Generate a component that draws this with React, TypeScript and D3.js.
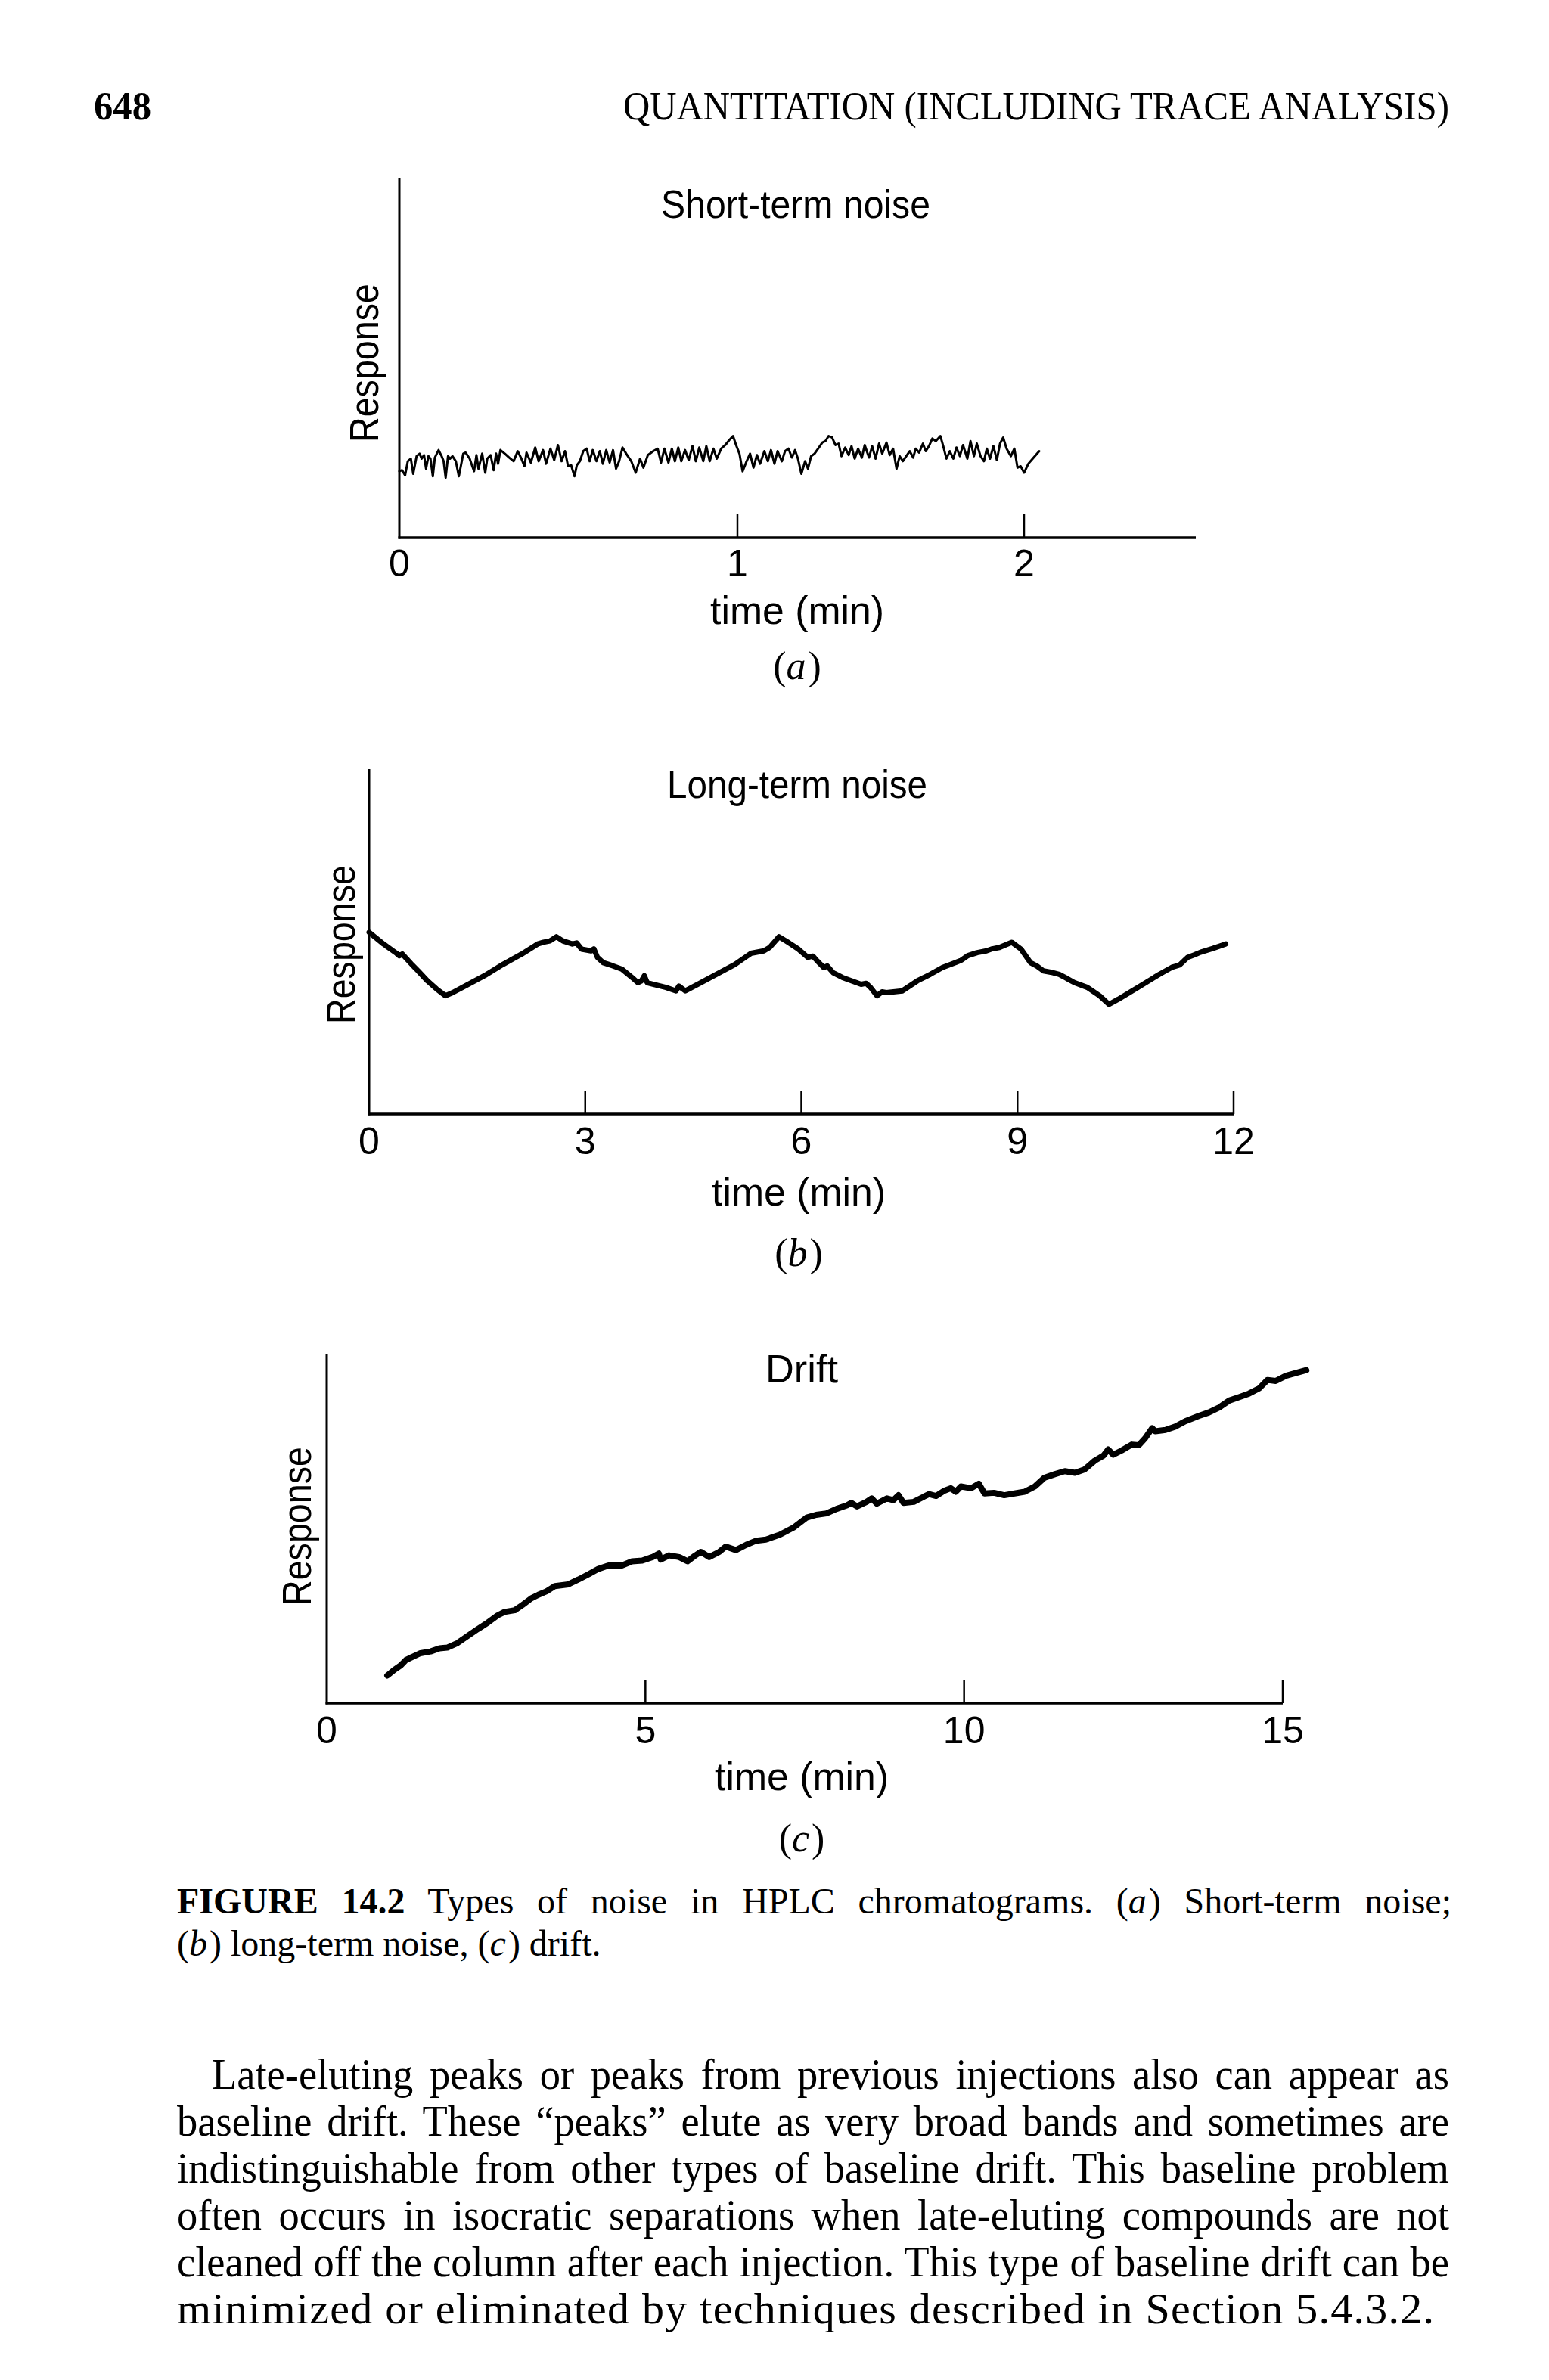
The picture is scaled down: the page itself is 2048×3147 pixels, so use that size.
import React, { useLayoutEffect, useRef, useState } from 'react';
import * as d3 from 'd3';

// (a) short-term noise: time (min) and response (axis height = 100)
const shortTime = [0, 0.008, 0.017, 0.025, 0.034, 0.041, 0.051, 0.06, 0.066, 0.073, 0.079, 0.086, 0.092, 0.099, 0.105, 0.116, 0.125, 0.131, 0.137, 0.144, 0.15, 0.157, 0.167, 0.176, 0.189, 0.196, 0.208, 0.221, 0.228, 0.234, 0.245, 0.254, 0.26, 0.27, 0.279, 0.286, 0.292, 0.299, 0.312, 0.325, 0.338, 0.35, 0.361, 0.37, 0.376, 0.389, 0.402, 0.412, 0.425, 0.434, 0.447, 0.458, 0.469, 0.48, 0.49, 0.499, 0.508, 0.518, 0.525, 0.534, 0.544, 0.554, 0.563, 0.572, 0.583, 0.593, 0.602, 0.612, 0.622, 0.632, 0.641, 0.65, 0.66, 0.671, 0.686, 0.699, 0.712, 0.722, 0.735, 0.751, 0.764, 0.774, 0.784, 0.796, 0.806, 0.815, 0.825, 0.834, 0.845, 0.856, 0.867, 0.877, 0.887, 0.899, 0.908, 0.918, 0.929, 0.939, 0.952, 0.964, 0.976, 0.987, 0.996, 1.007, 1.018, 1.03, 1.044, 1.056, 1.068, 1.079, 1.094, 1.106, 1.117, 1.129, 1.14, 1.155, 1.166, 1.178, 1.19, 1.201, 1.211, 1.223, 1.236, 1.246, 1.257, 1.269, 1.284, 1.296, 1.307, 1.318, 1.33, 1.342, 1.353, 1.363, 1.376, 1.388, 1.398, 1.409, 1.421, 1.434, 1.444, 1.459, 1.47, 1.482, 1.494, 1.505, 1.52, 1.531, 1.543, 1.555, 1.566, 1.577, 1.589, 1.601, 1.613, 1.622, 1.634, 1.647, 1.657, 1.668, 1.68, 1.692, 1.708, 1.718, 1.729, 1.741, 1.753, 1.764, 1.776, 1.787, 1.802, 1.813, 1.825, 1.835, 1.848, 1.86, 1.87, 1.881, 1.893, 1.905, 1.916, 1.927, 1.939, 1.954, 1.966, 1.977, 1.988, 2.0, 2.015, 2.03, 2.053];
const shortResp = [18.5, 18.8, 17.4, 21.3, 22.0, 17.8, 22.7, 23.4, 22.0, 23.0, 19.2, 22.7, 22.0, 17.1, 22.3, 24.4, 22.7, 21.3, 16.7, 22.7, 22.0, 22.7, 21.3, 17.1, 23.4, 23.7, 22.0, 18.5, 23.0, 19.2, 23.4, 18.1, 22.0, 23.0, 18.8, 23.4, 20.6, 24.4, 23.4, 22.3, 21.3, 24.1, 22.0, 19.9, 23.7, 20.9, 25.1, 21.3, 24.4, 20.6, 24.8, 21.6, 25.8, 21.3, 24.1, 19.9, 20.2, 17.1, 20.2, 21.3, 24.1, 24.8, 21.3, 24.4, 21.3, 24.1, 20.6, 24.4, 20.9, 24.4, 19.2, 21.3, 25.1, 23.4, 21.3, 18.1, 22.0, 19.5, 23.0, 24.1, 24.8, 20.9, 24.8, 20.9, 24.8, 21.3, 25.1, 21.3, 24.4, 21.6, 25.5, 21.3, 25.1, 21.3, 25.5, 21.3, 24.8, 22.0, 24.8, 25.8, 27.2, 28.3, 25.8, 23.4, 18.5, 20.9, 23.4, 19.5, 23.0, 20.6, 24.1, 21.3, 24.4, 20.6, 24.1, 21.3, 24.1, 24.8, 22.3, 24.4, 22.0, 17.8, 21.3, 19.2, 22.7, 23.4, 25.1, 26.5, 26.9, 28.3, 27.9, 25.8, 26.2, 22.7, 25.1, 23.0, 25.5, 22.0, 24.8, 22.3, 25.8, 22.3, 25.5, 22.0, 26.2, 23.4, 26.5, 23.0, 24.8, 19.2, 22.7, 21.3, 22.7, 24.1, 22.3, 24.8, 23.7, 26.2, 24.1, 25.5, 27.6, 26.9, 28.3, 25.5, 22.0, 24.1, 22.0, 25.1, 22.7, 25.8, 22.0, 26.9, 22.7, 26.2, 22.7, 21.3, 24.8, 22.0, 25.5, 21.6, 26.2, 27.9, 24.8, 22.7, 24.8, 19.5, 19.9, 18.1, 20.6, 22.0, 24.1];

// (b) long-term noise
const longTime = [0, 0.2, 0.38, 0.42, 0.46, 0.6, 0.68, 0.81, 0.94, 1.06, 1.16, 1.33, 1.6, 1.86, 2.12, 2.34, 2.42, 2.51, 2.6, 2.69, 2.82, 2.88, 2.95, 3.08, 3.12, 3.17, 3.25, 3.38, 3.51, 3.65, 3.73, 3.78, 3.82, 3.86, 3.95, 4.12, 4.26, 4.3, 4.39, 4.56, 4.82, 5.08, 5.3, 5.48, 5.56, 5.69, 5.83, 5.96, 6.09, 6.16, 6.22, 6.31, 6.36, 6.44, 6.57, 6.7, 6.83, 6.9, 6.96, 7.05, 7.12, 7.18, 7.4, 7.61, 7.79, 7.96, 8.14, 8.22, 8.31, 8.44, 8.57, 8.65, 8.75, 8.92, 9.05, 9.18, 9.27, 9.36, 9.49, 9.58, 9.66, 9.72, 9.79, 9.97, 10.14, 10.27, 10.4, 10.67, 10.97, 11.14, 11.25, 11.36, 11.45, 11.54, 11.71, 11.89];
const longResp = [52.7, 49.3, 46.6, 45.9, 46.4, 43.2, 41.5, 38.6, 36.2, 34.3, 35.2, 37.1, 40.1, 43.4, 46.4, 49.3, 49.8, 50.2, 51.4, 50.2, 49.3, 49.6, 47.8, 47.3, 47.9, 45.4, 43.9, 43.0, 42.0, 39.6, 38.1, 38.6, 40.1, 38.1, 37.6, 36.7, 35.7, 37.1, 35.7, 37.6, 40.5, 43.4, 46.6, 47.3, 48.3, 51.4, 49.6, 47.8, 45.4, 45.8, 44.4, 42.5, 42.9, 41.0, 39.6, 38.6, 37.6, 37.9, 36.7, 34.3, 35.4, 35.2, 35.7, 38.6, 40.5, 42.5, 43.9, 44.6, 45.9, 46.8, 47.3, 47.9, 48.3, 49.8, 47.8, 43.9, 42.9, 41.5, 41.0, 40.5, 39.6, 38.9, 38.1, 36.7, 34.3, 31.8, 33.3, 36.7, 40.5, 42.5, 43.2, 45.4, 46.1, 46.9, 48.0, 49.3];

// (c) drift
const driftTime = [0.95, 1.05, 1.16, 1.24, 1.35, 1.47, 1.63, 1.77, 1.89, 2.05, 2.21, 2.37, 2.53, 2.68, 2.79, 2.95, 3.07, 3.21, 3.32, 3.45, 3.58, 3.79, 3.95, 4.11, 4.26, 4.42, 4.63, 4.79, 4.95, 5.11, 5.21, 5.24, 5.37, 5.53, 5.66, 5.77, 5.87, 6.0, 6.16, 6.26, 6.42, 6.58, 6.74, 6.89, 7.11, 7.32, 7.53, 7.68, 7.84, 8.0, 8.16, 8.23, 8.32, 8.47, 8.55, 8.63, 8.79, 8.89, 8.97, 9.05, 9.21, 9.37, 9.45, 9.56, 9.68, 9.79, 9.87, 9.95, 10.11, 10.23, 10.32, 10.47, 10.63, 10.79, 10.95, 11.11, 11.26, 11.42, 11.58, 11.74, 11.89, 12.05, 12.19, 12.26, 12.34, 12.47, 12.63, 12.74, 12.84, 12.95, 13.0, 13.16, 13.32, 13.47, 13.68, 13.84, 14.0, 14.16, 14.32, 14.47, 14.63, 14.76, 14.89, 15.05, 15.21, 15.37];
const driftResp = [7.9, 9.4, 10.8, 12.3, 13.3, 14.3, 14.8, 15.7, 15.9, 17.2, 19.2, 21.2, 23.1, 25.1, 26.1, 26.6, 28.1, 30.0, 31.0, 32.0, 33.5, 34.0, 35.4, 36.9, 38.4, 39.4, 39.4, 40.6, 40.8, 41.8, 42.8, 41.1, 42.3, 41.8, 40.6, 42.1, 43.3, 41.8, 43.3, 44.8, 43.8, 45.3, 46.5, 46.8, 48.2, 50.2, 53.1, 53.9, 54.3, 55.6, 56.6, 57.3, 56.3, 57.6, 58.6, 57.1, 58.6, 58.1, 59.5, 57.3, 57.6, 59.1, 59.8, 59.3, 60.7, 61.5, 60.5, 62.0, 61.5, 62.8, 60.0, 60.2, 59.5, 60.0, 60.5, 62.0, 64.5, 65.5, 66.4, 65.9, 66.9, 69.4, 70.9, 72.6, 71.1, 72.3, 74.0, 73.8, 75.8, 78.7, 77.8, 78.2, 79.2, 80.7, 82.2, 83.2, 84.6, 86.6, 87.6, 88.6, 90.1, 92.5, 92.2, 93.7, 94.5, 95.3];

const shortMarks = [1, 2];
const shortLabels = [0, 1, 2];
const longMarks = [3, 6, 9, 12];
const longLabels = [0, 3, 6, 9, 12];
const driftMarks = [5, 10, 15];
const driftLabels = [0, 5, 10, 15];

const captionLine1 = ['Types of noise in HPLC chromatograms. (', 'a', ') Short-term noise;'];
const captionLine2 = ['(', 'b', ') long-term noise, (', 'c', ') drift.'];
const bodyLines = [
  'Late-eluting peaks or peaks from previous injections also can appear as',
  'baseline drift. These \u201Cpeaks\u201D elute as very broad bands and sometimes are',
  'indistinguishable from other types of baseline drift. This baseline problem',
  'often occurs in isocratic separations when late-eluting compounds are not',
  'cleaned off the column after each injection. This type of baseline drift can be',
  'minimized or eliminated by techniques described in Section 5.4.3.2.',
];

const SANS = '"Liberation Sans", Arial, Helvetica, sans-serif';
const SERIF = '"Liberation Serif", "Times New Roman", Times, serif';

// a text line, squeezed horizontally by `sx`, whose word spaces are set so it fills `width`
function Justified({ x, y, width, fontSize, sx = 1, children }: {
  x: number; y: number; width: number; fontSize: number; sx?: number; children: React.ReactNode;
}) {
  const ref = useRef<SVGTextElement>(null);
  const [ws, setWs] = useState(0);
  useLayoutEffect(() => {
    const el = ref.current;
    if (!el) return;
    const natural = el.getComputedTextLength();
    const gaps = ((el.textContent || '').match(/ /g) || []).length;
    if (gaps > 0) setWs((width / sx - natural) / gaps);
  }, [width, sx]);
  return (
    <g transform={`translate(${x},${y}) scale(${sx},1)`}>
      <text ref={ref} x={0} y={0} fontFamily={SERIF} fontSize={fontSize} wordSpacing={ws}>
        {children}
      </text>
    </g>
  );
}

interface PanelProps {
  times: number[];
  values: number[];
  xDomain: number[];
  xRange: number[];
  yRange: [number, number];
  marks: number[];
  labels: number[];
  lineWidth: number;
  title: string;
  titleX: number;
  titleY: number;
  titleLen: number;
  respX: number;
  respY: number;
  labelY: number;
  timeX: number;
  timeY: number;
  letter: string;
  letterY: number;
}

function Panel(p: PanelProps) {
  const x = d3.scaleLinear().domain(p.xDomain).range(p.xRange);
  const y = d3.scaleLinear().domain([0, 100]).range(p.yRange);
  const line = d3.line<number>()
    .x((_, i) => x(p.times[i]))
    .y(d => y(d));
  const x0 = p.xRange[0];
  const x1 = p.xRange[p.xRange.length - 1];
  const tickLen = 31;

  return (
    <g>
      {/* axes */}
      <line x1={x0} x2={x0} y1={y(0) + 1.5} y2={y(100)} stroke="#000" strokeWidth={3} />
      <line x1={x0 - 1.5} x2={x1} y1={y(0)} y2={y(0)} stroke="#000" strokeWidth={3.5} />
      {p.marks.map(m => (
        <line key={m} x1={x(m)} x2={x(m)} y1={y(0)} y2={y(0) - tickLen} stroke="#000" strokeWidth={2.5} />
      ))}
      {p.labels.map(l => (
        <text key={l} x={x(l)} y={p.labelY} textAnchor="middle" fontFamily={SANS} fontSize={50}>{l}</text>
      ))}

      {/* trace */}
      <path d={line(p.values) || ''} fill="none" stroke="#000" strokeWidth={p.lineWidth}
        strokeLinejoin="round" strokeLinecap="round" />

      <text x={p.titleX} y={p.titleY} textAnchor="middle" fontFamily={SANS} fontSize={52}
        textLength={p.titleLen} lengthAdjust="spacingAndGlyphs">{p.title}</text>
      <text transform={`translate(${p.respX},${p.respY}) rotate(-90)`} textAnchor="middle"
        fontFamily={SANS} fontSize={54} textLength={210} lengthAdjust="spacingAndGlyphs">Response</text>
      <text x={p.timeX} y={p.timeY} textAnchor="middle" fontFamily={SANS} fontSize={52}
        textLength={230} lengthAdjust="spacingAndGlyphs">time (min)</text>
      <text x={p.timeX} y={p.letterY} textAnchor="middle" fontFamily={SERIF} fontSize={52}>
        (<tspan fontStyle="italic">{p.letter}</tspan><tspan dx={3}>)</tspan>
      </text>
    </g>
  );
}

export default function App() {
  const last = bodyLines.length - 1;
  const bodySx = 0.94;
  return (
    <svg width={2048} height={3147} viewBox="0 0 2048 3147"
      style={{ position: 'absolute', left: 0, top: 0, background: '#fff' }}>
      <rect width={2048} height={3147} fill="#fff" />

      {/* running head */}
      <text x={124} y={158} fontFamily={SERIF} fontWeight="bold" fontSize={52}
        textLength={76} lengthAdjust="spacingAndGlyphs">648</text>
      <text x={824} y={158} fontFamily={SERIF} fontSize={52}
        textLength={1092} lengthAdjust="spacingAndGlyphs">QUANTITATION (INCLUDING TRACE ANALYSIS)</text>

      <Panel times={shortTime} values={shortResp}
        xDomain={[0, 1, 2, 2.6]} xRange={[528, 975, 1354, 1581]} yRange={[711, 236]}
        marks={shortMarks} labels={shortLabels} lineWidth={3}
        title="Short-term noise" titleX={1052} titleY={288} titleLen={356}
        respX={500} respY={480} labelY={762}
        timeX={1054} timeY={825} letter="a" letterY={898} />

      <Panel times={longTime} values={longResp}
        xDomain={[0, 12]} xRange={[488, 1631]} yRange={[1473, 1017]}
        marks={longMarks} labels={longLabels} lineWidth={7}
        title="Long-term noise" titleX={1054} titleY={1055} titleLen={344}
        respX={469} respY={1249} labelY={1526}
        timeX={1056} timeY={1594} letter="b" letterY={1674} />

      <Panel times={driftTime} values={driftResp}
        xDomain={[0, 15]} xRange={[432, 1696]} yRange={[2252, 1790]}
        marks={driftMarks} labels={driftLabels} lineWidth={8}
        title="Drift" titleX={1060} titleY={1828} titleLen={96}
        respX={411} respY={2018} labelY={2305}
        timeX={1060} timeY={2367} letter="c" letterY={2448} />

      {/* caption */}
      <Justified x={234} y={2530} width={1682} fontSize={48}>
        <tspan fontWeight="bold">FIGURE 14.2</tspan>
        <tspan> {captionLine1[0]}</tspan>
        <tspan fontStyle="italic">{captionLine1[1]}</tspan>
        <tspan dx={3}>{captionLine1[2]}</tspan>
      </Justified>
      <text x={234} y={2586} fontFamily={SERIF} fontSize={48}>
        {captionLine2.map((s, i) => (
          <tspan key={i} dx={i > 0 && i % 2 === 0 ? 3 : 0}
            fontStyle={i % 2 === 1 ? 'italic' : 'normal'}>{s}</tspan>
        ))}
      </text>

      {/* body text */}
      {bodyLines.map((s, i) => (
        i < last ? (
          <Justified key={i} x={i === 0 ? 280 : 234} y={2762 + i * 62} fontSize={58} sx={bodySx}
            width={i === 0 ? 1636 : 1682}>{s}</Justified>
        ) : (
          <text key={i} x={234} y={2762 + i * 62} fontFamily={SERIF} fontSize={58}
            textLength={1662} lengthAdjust="spacing">{s}</text>
        )
      ))}
    </svg>
  );
}
